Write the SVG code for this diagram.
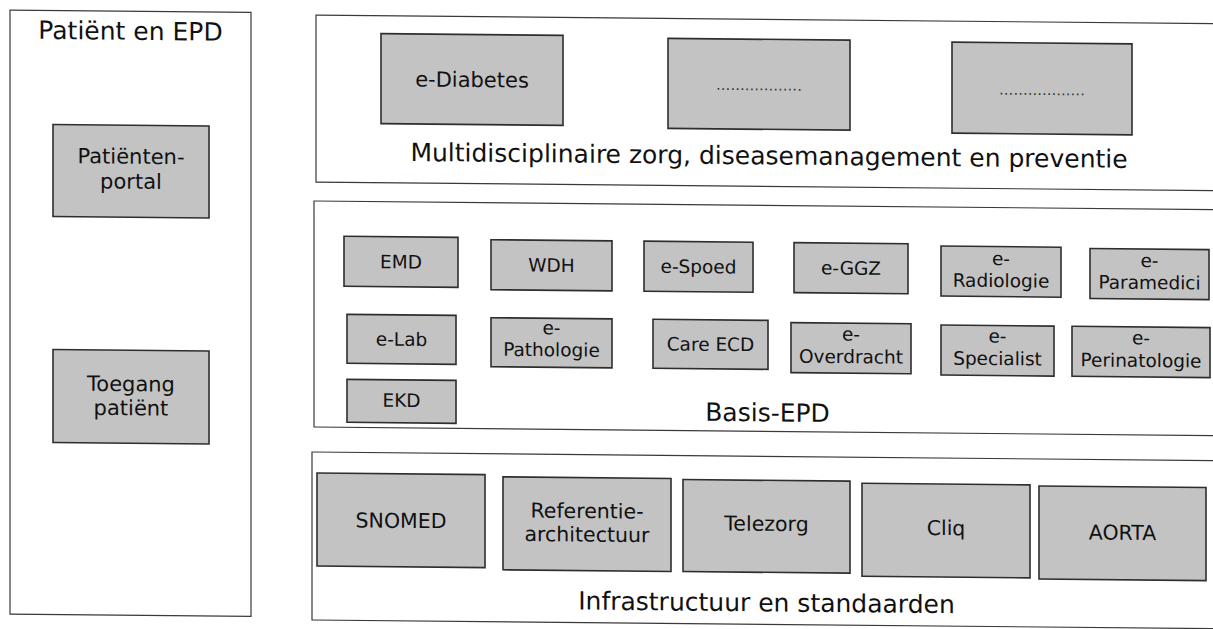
<svg xmlns="http://www.w3.org/2000/svg" width="1213" height="629" viewBox="0 0 1213 629">
<style>
.panel{fill:#ffffff;stroke:#3a3a3a;stroke-width:1.2}
.box{fill:#c3c3c3;stroke:#2e2e2e;stroke-width:1.6}
text{font-family:"DejaVu Sans",Verdana,sans-serif;fill:#111;text-anchor:middle}
.lbl{font-size:25px}
.big{font-size:21px}
.mid{font-size:20.5px}
.sm{font-size:18.5px}
.dots{font-size:15px;fill:#333}
</style>
<rect width="1213" height="629" fill="#ffffff"/>
<g transform="skewY(0.55)">
<g id="panel-patient">
<rect class="panel" x="10" y="10" width="241" height="604"/>
<text class="lbl" x="130.5" y="38.5">Patiënt en EPD</text>
</g>
<g id="panel-multi">
<rect class="panel" x="316" y="12" width="930" height="167"/>
<text class="lbl" x="769" y="157">Multidisciplinaire zorg, diseasemanagement en preventie</text>
</g>
<g id="panel-basis">
<rect class="panel" x="314" y="198" width="930" height="226"/>
<text class="lbl" x="767.5" y="414">Basis-EPD</text>
</g>
<g id="panel-infra">
<rect class="panel" x="312" y="449" width="930" height="168"/>
<text class="lbl" x="766.5" y="604">Infrastructuur en standaarden</text>
</g>

<g id="node-portal"><rect class="box" x="53" y="124" width="156" height="92"/><text class="big" x="131" y="162.5">Patiënten-</text><text class="big" x="131" y="187.5">portal</text></g>
<g id="node-toegang"><rect class="box" x="53" y="349" width="156" height="93"/><text class="big" x="131" y="390">Toegang</text><text class="big" x="131" y="414">patiënt</text></g>

<g id="node-ediabetes"><rect class="box" x="381" y="30" width="182" height="90"/><text class="big" x="472" y="82.5">e-Diabetes</text></g>
<g id="node-dots1"><rect class="box" x="668" y="32" width="182" height="90"/><text class="dots" x="759" y="83">..................</text></g>
<g id="node-dots2"><rect class="box" x="952" y="33" width="180" height="91"/><text class="dots" x="1042" y="85">..................</text></g>

<g id="node-emd"><rect class="box" x="344" y="233" width="114" height="50"/><text class="sm" x="401" y="264.5">EMD</text></g>
<g id="node-wdh"><rect class="box" x="491" y="235" width="121" height="50"/><text class="sm" x="551.5" y="266.5">WDH</text></g>
<g id="node-espoed"><rect class="box" x="644" y="235" width="109" height="50"/><text class="sm" x="698.5" y="266.5">e-Spoed</text></g>
<g id="node-eggz"><rect class="box" x="794" y="235" width="114" height="50"/><text class="sm" x="851" y="266.5">e-GGZ</text></g>
<g id="node-eradiologie"><rect class="box" x="941" y="237" width="120" height="50"/><text class="sm" x="1001" y="255.5">e-</text><text class="sm" x="1001" y="277.5">Radiologie</text></g>
<g id="node-eparamedici"><rect class="box" x="1090" y="238" width="119" height="50"/><text class="sm" x="1149.5" y="256">e-</text><text class="sm" x="1149.5" y="278">Paramedici</text></g>

<g id="node-elab"><rect class="box" x="347" y="311" width="109" height="49"/><text class="sm" x="401.5" y="342">e-Lab</text></g>
<g id="node-epathologie"><rect class="box" x="491" y="313" width="121" height="49"/><text class="sm" x="551.5" y="329">e-</text><text class="sm" x="551.5" y="351">Pathologie</text></g>
<g id="node-careecd"><rect class="box" x="653" y="313" width="115" height="49"/><text class="sm" x="710.5" y="344">Care ECD</text></g>
<g id="node-eoverdracht"><rect class="box" x="791" y="315" width="120" height="50"/><text class="sm" x="851" y="332.5">e-</text><text class="sm" x="851" y="355">Overdracht</text></g>
<g id="node-especialist"><rect class="box" x="941" y="316" width="113" height="50"/><text class="sm" x="997.5" y="333">e-</text><text class="sm" x="997.5" y="355.5">Specialist</text></g>
<g id="node-eperinatologie"><rect class="box" x="1072" y="316" width="138" height="50"/><text class="sm" x="1141" y="333.5">e-</text><text class="sm" x="1141" y="356">Perinatologie</text></g>

<g id="node-ekd"><rect class="box" x="347" y="376" width="109" height="43"/><text class="sm" x="401.5" y="403">EKD</text></g>

<g id="node-snomed"><rect class="box" x="317" y="470" width="168" height="93"/><text class="mid" x="401" y="524">SNOMED</text></g>
<g id="node-referentie"><rect class="box" x="503" y="472" width="168" height="93"/><text class="mid" x="587" y="512.5">Referentie-</text><text class="mid" x="587" y="536">architectuur</text></g>
<g id="node-telezorg"><rect class="box" x="683" y="473" width="167" height="92"/><text class="mid" x="766.5" y="523.5">Telezorg</text></g>
<g id="node-cliq"><rect class="box" x="862" y="475" width="168" height="93"/><text class="mid" x="946" y="526">Cliq</text></g>
<g id="node-aorta"><rect class="box" x="1039" y="476" width="167" height="93"/><text class="mid" x="1122.5" y="529">AORTA</text></g>

<g id="connectors"/>
</g>
</svg>
